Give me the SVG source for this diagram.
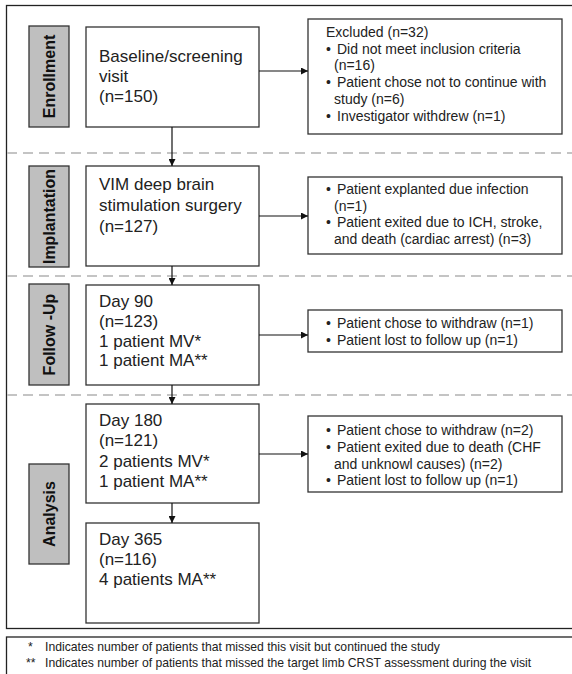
<svg xmlns="http://www.w3.org/2000/svg" width="572" height="674" viewBox="0 0 572 674">
<defs>
<marker id="ah" viewBox="0 0 10 10" refX="10" refY="5" markerWidth="7" markerHeight="7" markerUnits="userSpaceOnUse" orient="auto">
<path d="M0,0 L10,5 L0,10 z" fill="#111"/>
</marker>
<style>
.frame{fill:#fff;stroke:#222;stroke-width:1.3}
.lbl{fill:#bfbfbf;stroke:#333;stroke-width:1.3}
.box{fill:#fff;stroke:#333;stroke-width:1.3}
.lt{font-family:"Liberation Sans",Arial,sans-serif;font-size:16px;font-weight:bold;fill:#111}
.bt{font-family:"Liberation Sans",Arial,sans-serif;font-size:17px;fill:#222}
.st{font-family:"Liberation Sans",Arial,sans-serif;font-size:14px;fill:#222}
.ft{font-family:"Liberation Sans",Arial,sans-serif;font-size:12.2px;fill:#222}
.dash{stroke:#c4c4c4;stroke-width:2;stroke-dasharray:10 6;fill:none}
.conn{stroke:#111;stroke-width:1.2;fill:none;marker-end:url(#ah)}
</style>
</defs>
<rect x="0" y="0" width="572" height="674" fill="#fff"/>
<rect class="frame" x="6.5" y="5.5" width="580" height="623"/>
<rect class="frame" x="6.5" y="637" width="580" height="50"/>
<g id="separators">
<line class="dash" x1="7" y1="153" x2="572" y2="153"/>
<line class="dash" x1="7" y1="276" x2="572" y2="276"/>
<line class="dash" x1="7" y1="395" x2="572" y2="395"/>
</g>
<g id="label-enrollment">
<rect class="lbl" x="29" y="26" width="40" height="101"/>
<text class="lt" transform="translate(55,76.5) rotate(-90)" text-anchor="middle">Enrollment</text>
</g>
<g id="label-implantation">
<rect class="lbl" x="29" y="166" width="40" height="101"/>
<text class="lt" transform="translate(55,216.5) rotate(-90)" text-anchor="middle">Implantation</text>
</g>
<g id="label-followup">
<rect class="lbl" x="29" y="284" width="40" height="101"/>
<text class="lt" transform="translate(55,334.5) rotate(-90)" text-anchor="middle">Follow -Up</text>
</g>
<g id="label-analysis">
<rect class="lbl" x="29" y="464" width="40" height="100"/>
<text class="lt" transform="translate(55,514) rotate(-90)" text-anchor="middle">Analysis</text>
</g>
<g id="baseline">
<rect class="box" x="86" y="27" width="173" height="100"/>
<text class="bt"><tspan x="99" y="62">Baseline/screening</tspan><tspan x="99" y="82">visit</tspan><tspan x="99" y="102">(n=150)</tspan></text>
</g>
<g id="excluded">
<rect class="box" x="308" y="19" width="254" height="115"/>
<text class="st"><tspan x="326" y="37">Excluded (n=32)</tspan><tspan x="326" y="54">•</tspan><tspan x="337" y="54">Did not meet inclusion criteria</tspan><tspan x="334" y="70">(n=16)</tspan><tspan x="326" y="87">•</tspan><tspan x="337" y="87">Patient chose not to continue with</tspan><tspan x="334" y="104">study (n=6)</tspan><tspan x="326" y="121">•</tspan><tspan x="337" y="121">Investigator withdrew (n=1)</tspan></text>
</g>
<g id="surgery">
<rect class="box" x="86" y="166" width="173" height="100"/>
<text class="bt"><tspan x="99" y="190">VIM deep brain</tspan><tspan x="99" y="211">stimulation surgery</tspan><tspan x="99" y="232">(n=127)</tspan></text>
</g>
<g id="surgery-exits">
<rect class="box" x="308" y="177" width="254" height="77"/>
<text class="st"><tspan x="326" y="194">•</tspan><tspan x="337" y="194">Patient explanted due infection</tspan><tspan x="334" y="210.5">(n=1)</tspan><tspan x="326" y="227">•</tspan><tspan x="337" y="227">Patient exited due to ICH, stroke,</tspan><tspan x="334" y="244">and death (cardiac arrest) (n=3)</tspan></text>
</g>
<g id="day90">
<rect class="box" x="86" y="285" width="173" height="100"/>
<text class="bt"><tspan x="99" y="307">Day 90</tspan><tspan x="99" y="327">(n=123)</tspan><tspan x="99" y="346.5">1 patient MV*</tspan><tspan x="99" y="366">1 patient MA**</tspan></text>
</g>
<g id="day90-exits">
<rect class="box" x="308" y="310" width="254" height="42"/>
<text class="st"><tspan x="326" y="328">•</tspan><tspan x="337" y="328">Patient chose to withdraw (n=1)</tspan><tspan x="326" y="345">•</tspan><tspan x="337" y="345">Patient lost to follow up (n=1)</tspan></text>
</g>
<g id="day180">
<rect class="box" x="86" y="404" width="173" height="99"/>
<text class="bt"><tspan x="99" y="426">Day 180</tspan><tspan x="99" y="446">(n=121)</tspan><tspan x="99" y="467">2 patients MV*</tspan><tspan x="99" y="487">1 patient MA**</tspan></text>
</g>
<g id="day180-exits">
<rect class="box" x="308" y="416" width="254" height="76"/>
<text class="st"><tspan x="326" y="435">•</tspan><tspan x="337" y="435">Patient chose to withdraw (n=2)</tspan><tspan x="326" y="452">•</tspan><tspan x="337" y="452">Patient exited due to death (CHF</tspan><tspan x="334" y="468.5">and unknowl causes) (n=2)</tspan><tspan x="326" y="485">•</tspan><tspan x="337" y="485">Patient lost to follow up (n=1)</tspan></text>
</g>
<g id="day365">
<rect class="box" x="86" y="523" width="173" height="100"/>
<text class="bt"><tspan x="99" y="545">Day 365</tspan><tspan x="99" y="565">(n=116)</tspan><tspan x="99" y="585">4 patients MA**</tspan></text>
</g>
<g id="connectors">
<line class="conn" x1="259" y1="71" x2="308" y2="71"/>
<line class="conn" x1="259" y1="216" x2="308" y2="216"/>
<line class="conn" x1="259" y1="335" x2="308" y2="335"/>
<line class="conn" x1="259" y1="454" x2="308" y2="454"/>
<line class="conn" x1="172" y1="127" x2="172" y2="166"/>
<line class="conn" x1="172" y1="266" x2="172" y2="285"/>
<line class="conn" x1="172" y1="385" x2="172" y2="404"/>
<line class="conn" x1="172" y1="503" x2="172" y2="523"/>
</g>
<g id="footnote">
<text class="ft"><tspan x="28" y="651">*</tspan><tspan x="45" y="651">Indicates number of patients that missed this visit but continued the study</tspan><tspan x="26" y="667">**</tspan><tspan x="45" y="667">Indicates number of patients that missed the target limb CRST assessment during the visit</tspan></text>
</g>
</svg>
